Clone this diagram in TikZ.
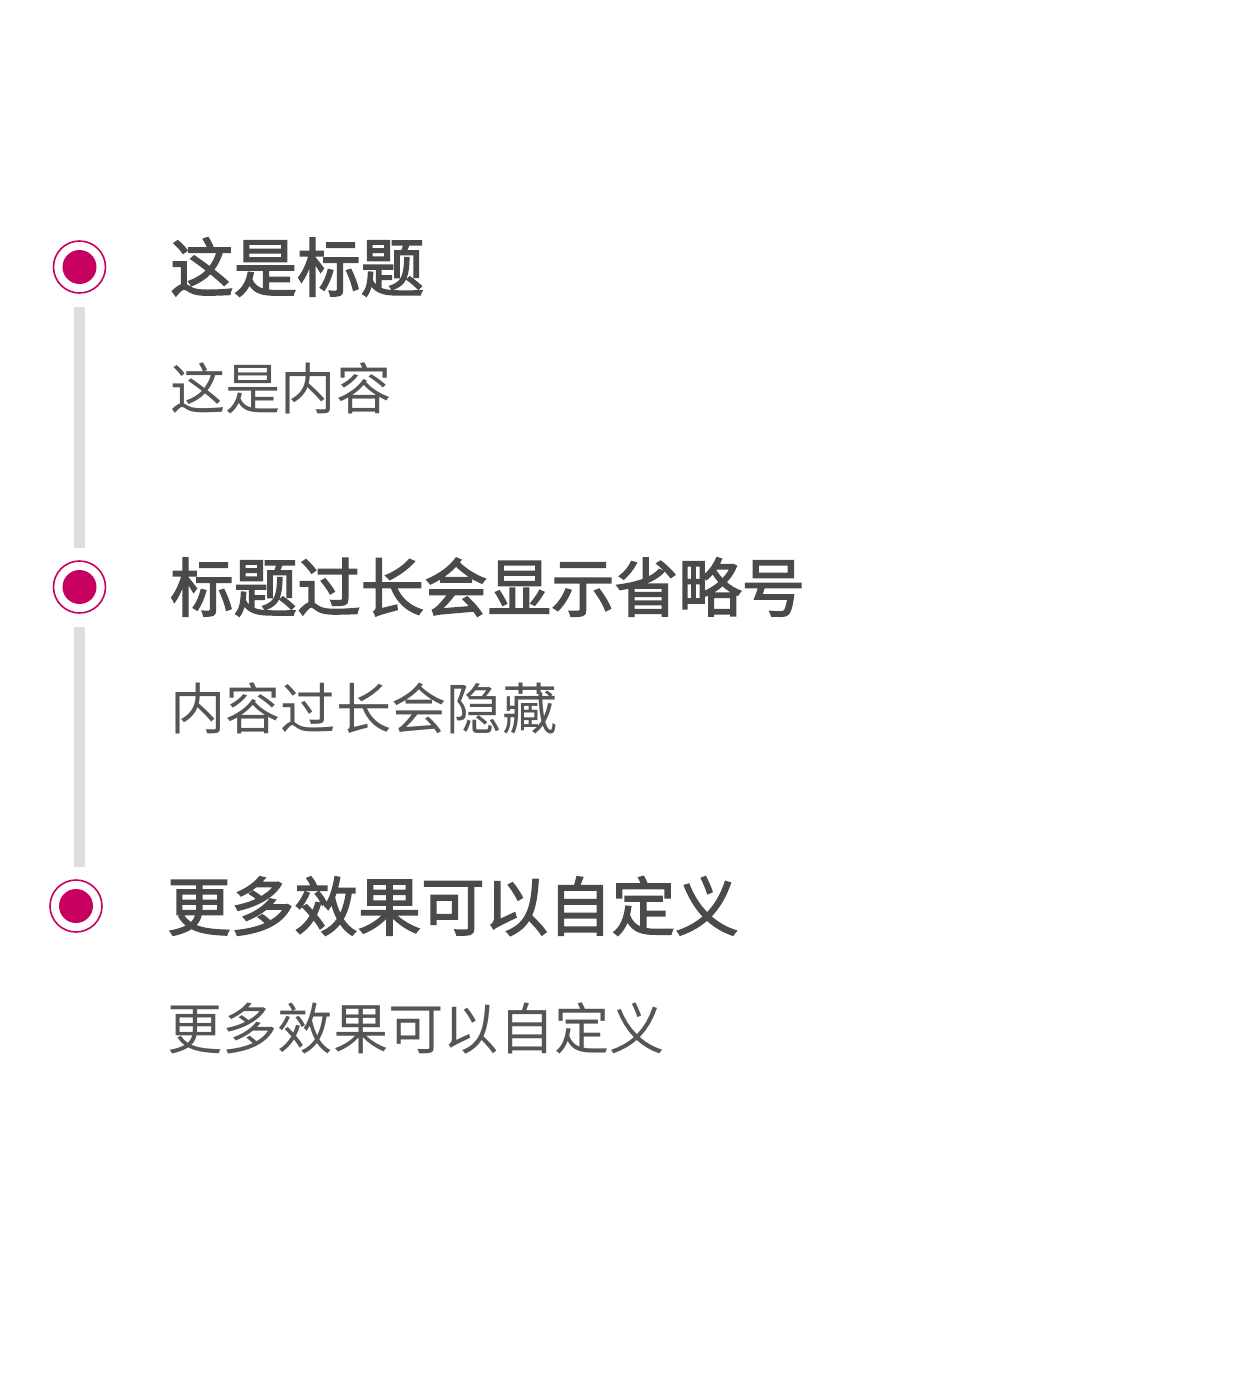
\documentclass[tikz,border=0pt]{standalone}
\usepackage{fontspec}
\newfontfamily\cjk{Noto Sans CJK SC}
\newfontfamily\cjkmed[FakeBold=2.4]{Noto Sans CJK SC}
\definecolor{accent}{HTML}{C8005F}
\definecolor{titlec}{HTML}{4A4A4A}
\definecolor{bodyc}{HTML}{555555}
\definecolor{railc}{HTML}{DEDEDE}
\begin{document}
\begin{tikzpicture}[x=1pt,y=-1pt,
  ring/.style={circle, draw=accent, line width=1.6pt, minimum size=52pt, inner sep=0pt},
  dot/.style={circle, fill=accent, minimum size=34pt, inner sep=0pt},
  ttl/.style={anchor=west, inner sep=0pt, text=titlec, font=\cjkmed\fontsize{63.5}{70}\selectfont},
  txt/.style={anchor=west, inner sep=0pt, text=bodyc, font=\cjk\fontsize{55.3}{62}\selectfont},
  rail/.style={draw=railc, line width=11pt, shorten <=13pt, shorten >=12pt}
]
\fill[white] (0,0) rectangle (1232,1376);
\useasboundingbox (0,0) rectangle (1232,1376);

\node[ring] (c1) at (79.5,267) {};
\node[dot] (d1) at (c1) {};
\node[ring] (c2) at (79.5,587) {};
\node[dot] (d2) at (c2) {};
\node[ring] (c3) at (76,906) {};
\node[dot] (d3) at (c3) {};

\draw[rail] (c1.south) -- (c2.north);
\draw[rail] (c2.south) -- (c2.south |- c3.north);

\node[ttl] (t1) at (170,267) {这是标题};
\node[txt] (b1) at (170,388) {这是内容};
\node[ttl] (t2) at (170,587) {标题过长会显示省略号};
\node[txt] (b2) at (170,708) {内容过长会隐藏};
\node[ttl] (t3) at (167,906) {更多效果可以自定义};
\node[txt] (b3) at (167,1028) {更多效果可以自定义};
\end{tikzpicture}
\end{document}
